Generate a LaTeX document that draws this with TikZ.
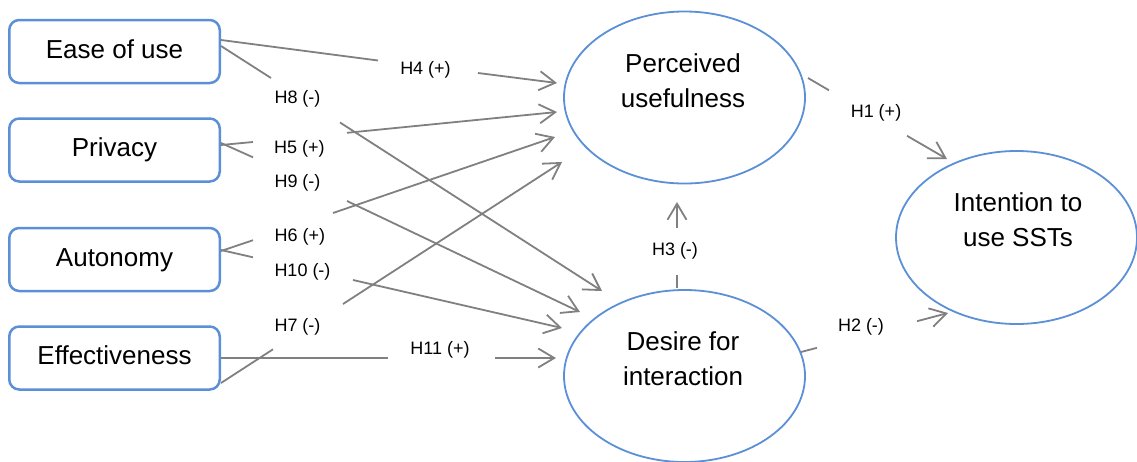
\documentclass[tikz,border=0pt]{standalone}
\usepackage{fontspec}
\setmainfont{Liberation Sans}
\usetikzlibrary{shapes.geometric,arrows.meta}
\definecolor{frameblue}{RGB}{91,143,214}
\definecolor{linkgray}{RGB}{128,128,128}
\begin{document}
\begin{tikzpicture}[x=1pt,y=-1pt,
  factor/.style={draw=frameblue, line width=2.5pt, rounded corners=10pt,
    minimum width=210.5pt, minimum height=63pt, inner sep=0pt,
    text height=19pt, text depth=6pt, font=\fontsize{26}{35}\selectfont},
  construct/.style={draw=frameblue, line width=1.8pt, ellipse,
    minimum width=241pt, minimum height=172pt, inner sep=0pt},
  ctext/.style={align=center, inner sep=0pt, font=\fontsize{26}{35}\selectfont},
  hyp/.style={inner sep=0pt, font=\fontsize{18}{20}\selectfont},
  link/.style={draw=linkgray, line width=1.8pt},
  arrowlink/.style={link, -{Straight Barb[length=16pt,width=19pt]}},
]
\useasboundingbox (0,0) rectangle (1137,461);

% antecedent factors
\node[factor] (ease)   at (114.5,51.5) {Ease of use};
\node[factor] (priv)   at (114.5,150)  {Privacy};
\node[factor] (auto)   at (114.5,259.5){Autonomy};
\node[factor] (effect) at (114.5,358)  {Effectiveness};

% constructs
\node[construct] (pu)  at (684.5,97.5) {};
\node[construct] (dfi) at (684.5,376) {};
\node[construct, minimum height=173pt] (itu) at (1016.5,237.5) {};
\node[ctext] (putext)  at (683,80.5) {Perceived\\usefulness};
\node[ctext] (dfitext) at (683,359)  {Desire for\\interaction};
\node[ctext] (itutext) at (1018,220) {Intention to\\use SSTs};

% hypothesis labels
\node[hyp] (h4)  at (425.5,70)  {H4 (+)};
\node[hyp] (h8)  at (297.5,99)  {H8 (-)};
\node[hyp] (h5)  at (299.5,149) {H5 (+)};
\node[hyp] (h9)  at (297.5,183) {H9 (-)};
\node[hyp] (h6)  at (300,237)   {H6 (+)};
\node[hyp] (h10) at (302.5,272) {H10 (-)};
\node[hyp] (h7)  at (297.5,327) {H7 (-)};
\node[hyp] (h11) at (440,350)   {H11 (+)};
\node[hyp] (h1)  at (876,113)   {H1 (+)};
\node[hyp] (h2)  at (861,327)   {H2 (-)};
\node[hyp] (h3)  at (675,251)   {H3 (-)};

% path end points: start, gap before label, gap after label, tip
\coordinate (h4s) at (221,40);   \coordinate (h4a) at (378,60.5);
\coordinate (h4b) at (478,73);   \coordinate (h4t) at (557,83);
\coordinate (h8s) at (221,46);   \coordinate (h8a) at (271,78);
\coordinate (h8b) at (340,122.5);\coordinate (h8t) at (602,291);
\coordinate (h5s) at (221,145);  \coordinate (h5a) at (253,142);
\coordinate (h5b) at (347,132.8);\coordinate (h5t) at (557,112);
\coordinate (h9s) at (221,143);  \coordinate (h9a) at (253,157.3);
\coordinate (h9b) at (347,201);  \coordinate (h9t) at (580,312);
\coordinate (h6s) at (221,251);  \coordinate (h6a) at (253,240.2);
\coordinate (h6b) at (333,213);  \coordinate (h6t) at (555,137);
\coordinate (h10s) at (221,250); \coordinate (h10a) at (253,257.3);
\coordinate (h10b) at (353,280); \coordinate (h10t) at (562,328);
\coordinate (h7s) at (221,383);  \coordinate (h7a) at (273,349.3);
\coordinate (h7b) at (343,304);  \coordinate (h7t) at (562,162);
\coordinate (h11s) at (221,358); \coordinate (h11a) at (388,358);
\coordinate (h11b) at (495,358); \coordinate (h11t) at (556,358);
\coordinate (h1s) at (808,78);   \coordinate (h1a) at (829,90.3);
\coordinate (h1b) at (907,135.8);\coordinate (h1t) at (947,159);
\coordinate (h2s) at (801,352);  \coordinate (h2a) at (817,347.8);
\coordinate (h2b) at (917,321.2);\coordinate (h2t) at (948,313);
\coordinate (h3s) at (677,288);  \coordinate (h3a) at (677,275);
\coordinate (h3b) at (677,228);  \coordinate (h3t) at (677,202);

% hypothesised paths, each broken around its label
\foreach \h in {h4,h8,h5,h9,h6,h10,h7,h11,h1,h2,h3}{
  \draw[link] (\h s) -- (\h a);
  \draw[arrowlink] (\h b) -- (\h t);
}
\end{tikzpicture}
\end{document}
